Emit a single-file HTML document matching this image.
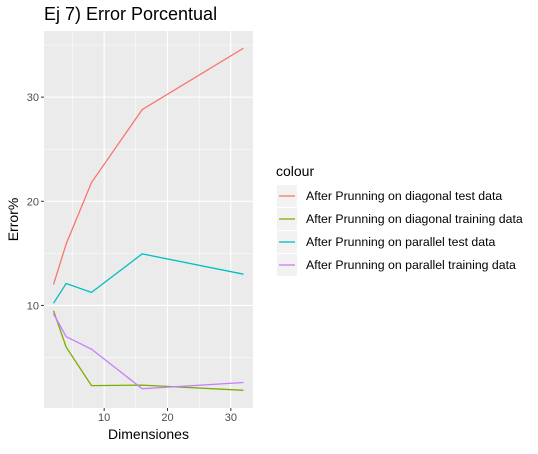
<!DOCTYPE html>
<html><head><meta charset="utf-8"><style>
body{margin:0;background:#fff;font-family:"Liberation Sans",sans-serif}
</style></head><body>
<svg id="c" width="538" height="449" xmlns="http://www.w3.org/2000/svg" font-family="Liberation Sans, sans-serif"></svg>
<script>
const xs=[2,4,8,16,32];
const diagTest=[12.0,15.9,21.8,28.8,34.7];
const diagTrain=[9.5,6.0,2.3,2.35,1.85];
const parTest=[10.2,12.1,11.25,14.95,13.0];
const parTrain=[9.2,7.0,5.8,2.0,2.6];
const xTicks=[10,20,30];
const yTicks=[10,20,30];
const seriesNames=["After Prunning on diagonal test data","After Prunning on diagonal training data","After Prunning on parallel test data","After Prunning on parallel training data"];
const colors=["#F8766D","#7CAE00","#00BFC4","#C77CFF"];
const series=[diagTest,diagTrain,parTest,parTrain];
const L=44,R=253,T=31,B=408;
const x0=0.5,x1=33.5,y0=0.15,y1=36.35;
const X=v=>L+(v-x0)/(x1-x0)*(R-L);
const Y=v=>B-(v-y0)/(y1-y0)*(B-T);
const svg=document.getElementById('c');const NS="http://www.w3.org/2000/svg";
function el(t,a,p){const e=document.createElementNS(NS,t);for(const k in a)e.setAttribute(k,a[k]);(p||svg).appendChild(e);return e;}
let e=el('text',{x:44,y:20,'font-size':18,fill:'#000'});e.textContent="Ej 7) Error Porcentual";


e=el('rect',{x:L,y:T,width:R-L,height:B-T,fill:'#EBEBEB'});


for(let v=5;v<=35;v+=10){if(v>x0&&v<x1){el('line',{x1:X(v),x2:X(v),y1:T,y2:B,stroke:'#fff','stroke-width':0.5});}
 el('line',{x1:L,x2:R,y1:Y(v),y2:Y(v),stroke:'#fff','stroke-width':0.5});}
xTicks.forEach(v=>{el('line',{x1:X(v),x2:X(v),y1:T,y2:B,stroke:'#fff','stroke-width':1.1});
 el('line',{x1:X(v),x2:X(v),y1:B,y2:B+3,stroke:'#333'});
 const t=el('text',{x:X(v),y:B+13,'font-size':11,fill:'#4D4D4D','text-anchor':'middle'});t.textContent=v;
 
 });
yTicks.forEach(v=>{el('line',{x1:L,x2:R,y1:Y(v),y2:Y(v),stroke:'#fff','stroke-width':1.1});
 el('line',{x1:L-3,x2:L,y1:Y(v),y2:Y(v),stroke:'#333'});
 const t=el('text',{x:L-5,y:Y(v)+4,'font-size':11,fill:'#4D4D4D','text-anchor':'end'});t.textContent=v;
 
 });
series.forEach((s,i)=>{const p=el('polyline',{points:s.map((v,j)=>X(xs[j])+','+Y(v)).join(' '),fill:'none',stroke:colors[i],'stroke-width':1.3});
 
 });
e=el('text',{x:(L+R)/2,y:439,'font-size':14,'text-anchor':'middle'});e.textContent="Dimensiones";


e=el('text',{x:18,y:(T+B)/2,'font-size':14,'text-anchor':'middle',transform:`rotate(-90 18 ${(T+B)/2})`});e.textContent="Error%";


e=el('text',{x:276,y:176,'font-size':14});e.textContent="colour";


seriesNames.forEach((n,i)=>{const g=el('g',{});
 
 
 const cy=196+i*23;
 el('rect',{x:277,y:cy-11,width:20,height:22,fill:'#F2F2F2'},g);
 el('line',{x1:279,x2:295,y1:cy,y2:cy,stroke:colors[i],'stroke-width':1.3},g);
 const t=el('text',{x:306,y:cy+4,'font-size':12.3},g);t.textContent=n;});
</script>
</body></html>
